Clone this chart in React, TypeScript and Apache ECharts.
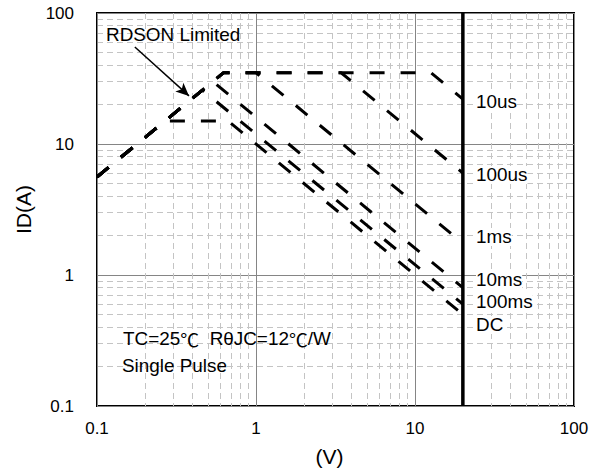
import { useEffect, useRef } from "react";
import * as echarts from "echarts";

// Axis tick labels (log decades)
const voltageTicks = ["0.1", "1", "10", "100"];
const currentTicks = ["0.1", "1", "10", "100"];

// Safe operating area boundaries, vertices as [VDS (V), ID (A)]
const pulse10us = [[0.1, 5.6], [0.625, 35], [12.6, 35], [20, 22]];
const pulse100us = [[0.1, 5.6], [0.625, 35], [3.43, 35], [20, 6]];
const pulse1ms = [[0.1, 5.6], [0.625, 35], [1, 35], [20, 1.75]];
const pulse10ms = [[0.1, 5.6], [0.535, 30], [20, 0.8]];
const pulse100ms = [[0.1, 5.6], [0.46, 25.8], [20, 0.6]];
const dcCurve = [[0.1, 5.6], [0.268, 15], [0.667, 15], [20, 0.5]];

// Maximum drain-source voltage
const vdsMaxLine = [[20, 0.1], [20, 100]];

// RDSON annotation arrow, from text to the limit line
const rdsonArrow = [[0.173, 55], [0.379, 23.3]];

const curveNames = ["10us", "100us", "1ms", "10ms", "100ms", "DC"];
const curves = [pulse10us, pulse100us, pulse1ms, pulse10ms, pulse100ms, dcCurve];

const FONT = "'Liberation Sans', Arial, sans-serif";
const CJK = "'Noto Sans CJK SC', sans-serif";

export default function App() {
  const ref = useRef<HTMLDivElement>(null);

  useEffect(() => {
    document.body.style.margin = "0";
    if (!ref.current) return;
    const chart = echarts.init(ref.current, null, { renderer: "svg" });

    const tickFormatter = (labels: string[]) => (v: number) => {
      const hit = labels.find((t) => Math.abs(Number(t) - v) < 1e-6 * Math.max(1, v));
      return hit ?? "";
    };

    const dashed = {
      color: "#000",
      width: 3,
      type: [15, 16] as number[],
      cap: "butt" as const,
    };

    const curveSeries = curves.map((c, i) => ({
      name: curveNames[i],
      type: "line" as const,
      data: c,
      symbol: "none",
      showSymbol: false,
      silent: true,
      lineStyle: dashed,
      z: 3,
    }));

    const labelYs = [103, 176, 238, 281, 303, 326];

    const note = (text: string, left: number, top: number, extra: object = {}) => ({
      type: "text",
      left,
      top,
      scaleX: 1.05,
      style: { text, font: `18px ${FONT}`, fill: "#000", ...extra },
      z: 10,
    });

    chart.setOption({
      animation: false,
      backgroundColor: "#fff",
      textStyle: { fontFamily: FONT },
      grid: {
        left: 97,
        right: 28,
        top: 13,
        bottom: 69,
        show: true,
        borderColor: "#000",
        borderWidth: 2,
        backgroundColor: "transparent",
        containLabel: false,
        outerBoundsMode: "none",
      },
      xAxis: {
        type: "log",
        logBase: 10,
        min: 0.1,
        max: 100,
        name: "(V)",
        nameLocation: "middle",
        nameGap: 40,
        nameTextStyle: { fontSize: 21, color: "#000", fontFamily: FONT, padding: [0, 12, 0, 0] },
        axisLine: { show: false },
        axisTick: { show: false },
        axisLabel: {
          fontSize: 17,
          color: "#000",
          margin: 14,
          fontFamily: FONT,
          formatter: tickFormatter(voltageTicks),
        },
        splitLine: { show: true, lineStyle: { color: "#858585", width: 1, type: "solid" } },
        minorTick: { show: false, splitNumber: 9 },
        minorSplitLine: { show: true, lineStyle: { color: "#c4c4c4", width: 1, type: [6, 4] } },
      },
      yAxis: {
        type: "log",
        logBase: 10,
        min: 0.1,
        max: 100,
        name: "ID(A)",
        nameLocation: "middle",
        nameRotate: 90,
        nameGap: 63,
        nameTextStyle: { fontSize: 21, color: "#000", fontFamily: FONT },
        axisLine: { show: false },
        axisTick: { show: false },
        axisLabel: {
          fontSize: 17,
          color: "#000",
          margin: 23,
          fontFamily: FONT,
          formatter: tickFormatter(currentTicks),
        },
        splitLine: { show: true, lineStyle: { color: "#858585", width: 1, type: "solid" } },
        minorTick: { show: false, splitNumber: 9 },
        minorSplitLine: { show: true, lineStyle: { color: "#c4c4c4", width: 1, type: [6, 4] } },
      },
      series: [
        ...curveSeries,
        {
          name: "VDS max",
          type: "line",
          data: vdsMaxLine,
          symbol: "none",
          silent: true,
          lineStyle: { color: "#000", width: 3.5, type: "solid" },
          z: 4,
        },
        {
          name: "arrow",
          type: "line",
          data: [],
          silent: true,
          markLine: {
            silent: true,
            animation: false,
            symbol: ["none", "arrow"],
            symbolSize: [9, 13],
            label: { show: false },
            lineStyle: { color: "#000", width: 1.5, type: "solid" },
            data: [[{ coord: rdsonArrow[0] }, { coord: rdsonArrow[1] }]],
          },
        },
      ],
      graphic: [
        note("RDSON Limited", 106, 26),
        note("{a|TC=25}{c|℃}{a|  RθJC=12}{c|℃}{a|/W}", 123, 330, {
          rich: {
            a: { font: `18px ${FONT}`, fill: "#000" },
            c: { font: `18px ${CJK}`, fill: "#000" },
          },
        }),
        note("Single Pulse", 122, 357),
        ...curveNames.map((n, i) =>
          note(n, 476, labelYs[i] - 10, { backgroundColor: "#fff" })
        ),
      ],
    });

    return () => chart.dispose();
  }, []);

  return <div ref={ref} style={{ width: 602, height: 475 }} />;
}
